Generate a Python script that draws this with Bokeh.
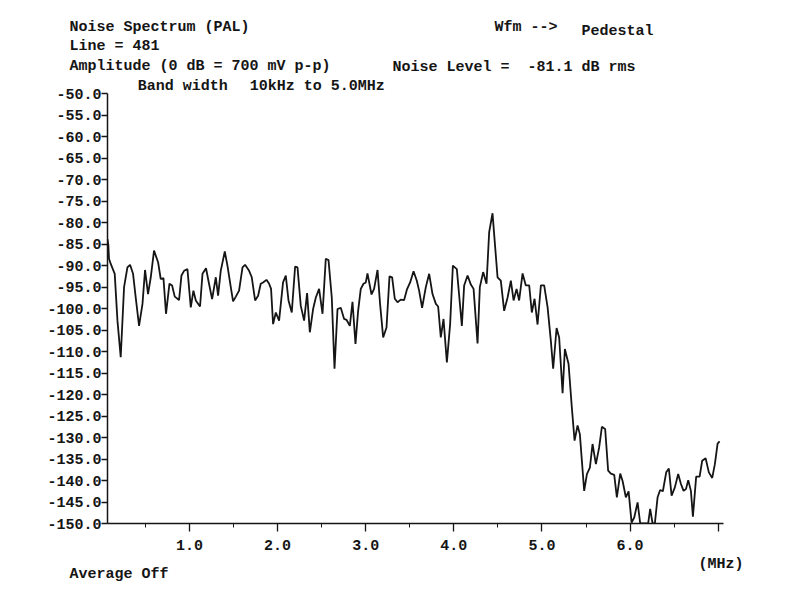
from bokeh.plotting import figure
from bokeh.layouts import column
from bokeh.models import Range1d, FixedTicker, PrintfTickFormatter
from bokeh.core.properties import value
from bokeh.embed import file_html
from bokeh.resources import INLINE

# ---- data ----
freq_mhz = [0.07,0.08,0.087,0.107,0.152,0.183,0.220,0.258,0.296,0.326,
            0.360,0.390,0.428,0.467,0.496,0.530,0.561,0.598,0.644,0.674,
            0.705,0.734,0.773,0.803,0.833,0.882,0.909,0.939,0.977,1.015,
            1.045,1.072,1.120,1.148,1.188,1.222,1.257,1.299,1.325,1.355,
            1.401,1.431,1.469,1.495,1.526,1.563,1.602,1.631,1.677,1.707,
            1.745,1.779,1.809,1.835,1.874,1.904,1.926,1.949,1.980,2.017,
            2.062,2.093,2.124,2.161,2.199,2.226,2.263,2.301,2.335,2.366,
            2.403,2.434,2.471,2.510,2.547,2.578,2.615,2.646,2.680,2.717,
            2.755,2.782,2.820,2.850,2.884,2.914,2.944,2.975,3.001,3.020,
            3.066,3.095,3.134,3.163,3.198,3.236,3.270,3.300,3.330,3.361,
            3.398,3.436,3.467,3.504,3.543,3.580,3.606,3.640,3.682,3.720,
            3.758,3.796,3.822,3.852,3.883,3.921,3.958,3.989,4.034,4.091,
            4.117,4.156,4.193,4.224,4.269,4.295,4.333,4.371,4.401,4.439,
            4.469,4.496,4.533,4.571,4.610,4.647,4.678,4.712,4.741,4.780,
            4.817,4.855,4.885,4.916,4.950,4.988,5.025,5.064,5.101,5.127,
            5.166,5.195,5.234,5.260,5.302,5.339,5.370,5.404,5.430,5.479,
            5.510,5.544,5.574,5.612,5.649,5.680,5.717,5.728,5.751,5.782,
            5.820,5.850,5.888,5.915,5.952,5.983,6.017,6.047,6.085,6.115,
            6.160,6.205,6.228,6.255,6.281,6.312,6.341,6.372,6.410,6.440,
            6.471,6.508,6.546,6.577,6.607,6.634,6.660,6.690,6.713,6.750,
            6.789,6.818,6.857,6.894,6.932,6.962,6.993,7.016]

level_db = [-83.8,-85.3,-88.4,-89.6,-91.9,-102.8,-111.3,-95.0,-90.4,-89.8,
            -91.9,-97.4,-104.0,-98.9,-91.0,-96.6,-92.7,-86.5,-89.2,-93.1,
            -92.9,-101.2,-94.2,-94.6,-97.2,-98.0,-92.3,-91.2,-90.8,-99.7,
            -95.8,-98.1,-99.5,-91.9,-90.6,-94.2,-97.8,-92.7,-97.0,-91.2,
            -86.7,-90.0,-95.0,-98.3,-97.2,-95.8,-90.4,-89.8,-91.2,-92.7,
            -98.1,-97.0,-94.2,-93.9,-93.3,-94.2,-95.4,-103.6,-100.9,-102.8,
            -93.9,-92.3,-98.1,-100.9,-90.2,-90.4,-99.3,-102.8,-96.4,-105.5,
            -100.1,-97.4,-95.4,-101.2,-88.4,-88.7,-97.4,-114.0,-100.1,-99.8,
            -102.4,-102.6,-104.0,-98.4,-108.2,-100.5,-95.4,-94.2,-93.9,-91.8,
            -96.7,-95.4,-91.0,-98.9,-106.7,-104.4,-92.5,-92.7,-97.7,-98.5,
            -97.9,-98.0,-95.6,-93.9,-91.3,-93.5,-95.8,-99.8,-95.0,-91.9,
            -96.6,-98.9,-99.5,-106.7,-102.4,-112.5,-103.6,-90.0,-90.8,-104.0,
            -94.6,-92.3,-94.4,-95.4,-108.1,-95.0,-91.5,-94.2,-82.2,-77.8,
            -85.7,-92.7,-93.5,-100.5,-97.4,-93.5,-98.1,-95.4,-98.1,-91.8,
            -94.6,-94.6,-100.9,-97.7,-103.7,-94.6,-94.6,-99.7,-107.5,-114.0,
            -104.5,-106.7,-119.7,-109.4,-112.9,-123.0,-130.7,-127.2,-129.2,-142.4,
            -138.5,-137.0,-131.5,-136.2,-132.3,-127.5,-128.0,-131.1,-137.7,-138.4,
            -138.7,-143.9,-138.4,-140.1,-143.9,-142.5,-149.8,-148.6,-145.1,-150.0,
            -150.0,-150.0,-146.6,-150.0,-150.0,-143.9,-142.2,-142.5,-138.1,-137.2,
            -143.5,-141.6,-138.5,-140.8,-142.4,-142.0,-139.9,-142.4,-148.4,-139.1,
            -139.1,-135.4,-134.8,-138.1,-139.4,-136.2,-131.4,-130.9]

y_ticks = [-150, -145, -140, -135, -130, -125, -120, -115, -110, -105,
           -100, -95, -90, -85, -80, -75, -70, -65, -60, -55, -50]
x_ticks = [1, 2, 3, 4, 5, 6, 7]
x_minor_ticks = [0.5, 1.5, 2.5, 3.5, 4.5, 5.5, 6.5]

header_texts = ["Noise Spectrum (PAL)", "Line = 481", "Amplitude (0 dB = 700 mV p-p)",
                "Noise Level =", "-81.1 dB rms", "Wfm -->", "Pedestal"]
bandwidth_texts = ["Band width", "10kHz to 5.0MHz"]
footer_texts = ["(MHz)", "Average Off"]

# ---- layout / style ----
FONT = "Liberation Mono"
FS = "15px"
INK = "#151515"
W = 784
HEAD_H = 76
MAIN_BOTTOM = 31
MAIN_H = 447 + MAIN_BOTTOM
FOOT_H = 590 - HEAD_H - MAIN_H

# header / footer positions (page pixels)
head_x = [69, 69, 69, 392, 527, 494, 581]
head_y = [27, 45.6, 66, 66.5, 66.5, 27, 31]
foot_x = [698, 69]
foot_y = [564, 574]


def no_frame_align(f):
    try:
        f.frame_align = False
    except Exception:
        pass


def text_panel(height, y_top, xs, ys, texts):
    f = figure(width=W, height=height, output_backend="svg", toolbar_location=None,
               x_axis_location=None, y_axis_location=None, min_border=0,
               x_range=Range1d(0, W), y_range=Range1d(y_top + height, y_top))
    no_frame_align(f)
    f.outline_line_color = None
    f.background_fill_color = "white"
    f.border_fill_color = "white"
    f.grid.visible = False
    f.text(x=xs, y=ys, text=texts, text_font=value(FONT), text_font_style="bold",
           text_font_size=value(FS), text_color=INK, text_align="left",
           text_baseline="middle")
    return f


header = text_panel(HEAD_H, 0, head_x, head_y, header_texts)

# main chart: frame from page y 76 to 523, x 107 to 723
p = figure(width=W, height=MAIN_H, output_backend="svg", toolbar_location=None,
           x_range=Range1d(0.07, 7.06), y_range=Range1d(-150, -45.98),
           min_border=0, min_border_left=107, min_border_right=61,
           min_border_top=0, min_border_bottom=MAIN_BOTTOM)
no_frame_align(p)
p.background_fill_color = "white"
p.border_fill_color = "white"
p.outline_line_color = None
p.xgrid.visible = False
p.ygrid.visible = False

p.line(freq_mhz, level_db, line_color=INK, line_width=1.8)

p.text(x=[0.413, 1.684], y=[-48.30, -48.30], text=bandwidth_texts,
       text_font=value(FONT), text_font_style="bold", text_font_size=value(FS),
       text_color=INK, text_align="left", text_baseline="middle")

for ax in (p.xaxis[0], p.yaxis[0]):
    ax.axis_line_color = INK
    ax.axis_line_width = 1.5
    ax.major_tick_line_color = INK
    ax.major_tick_line_width = 1.3
    ax.minor_tick_line_color = INK
    ax.major_tick_in = 0
    ax.minor_tick_in = 0
    ax.major_label_text_font = FONT
    ax.major_label_text_font_style = "bold"
    ax.major_label_text_font_size = FS
    ax.major_label_text_color = INK

xa = p.xaxis[0]
xa.ticker = FixedTicker(ticks=x_ticks, minor_ticks=x_minor_ticks)
xa.formatter = PrintfTickFormatter(format="%.1f")
xa.major_label_overrides = {7: ""}
xa.major_tick_out = 8
xa.minor_tick_out = 4
xa.major_label_standoff = 8

ya = p.yaxis[0]
ya.ticker = FixedTicker(ticks=y_ticks, minor_ticks=[])
ya.formatter = PrintfTickFormatter(format="%.1f")
ya.bounds = (-150, -50)
ya.major_tick_out = 6
ya.minor_tick_out = 0
ya.major_label_standoff = 0

footer = text_panel(FOOT_H, HEAD_H + MAIN_H, foot_x, foot_y, footer_texts)

layout = column(header, p, footer, spacing=0)
open("out.html", "w").write(file_html(layout, INLINE))
